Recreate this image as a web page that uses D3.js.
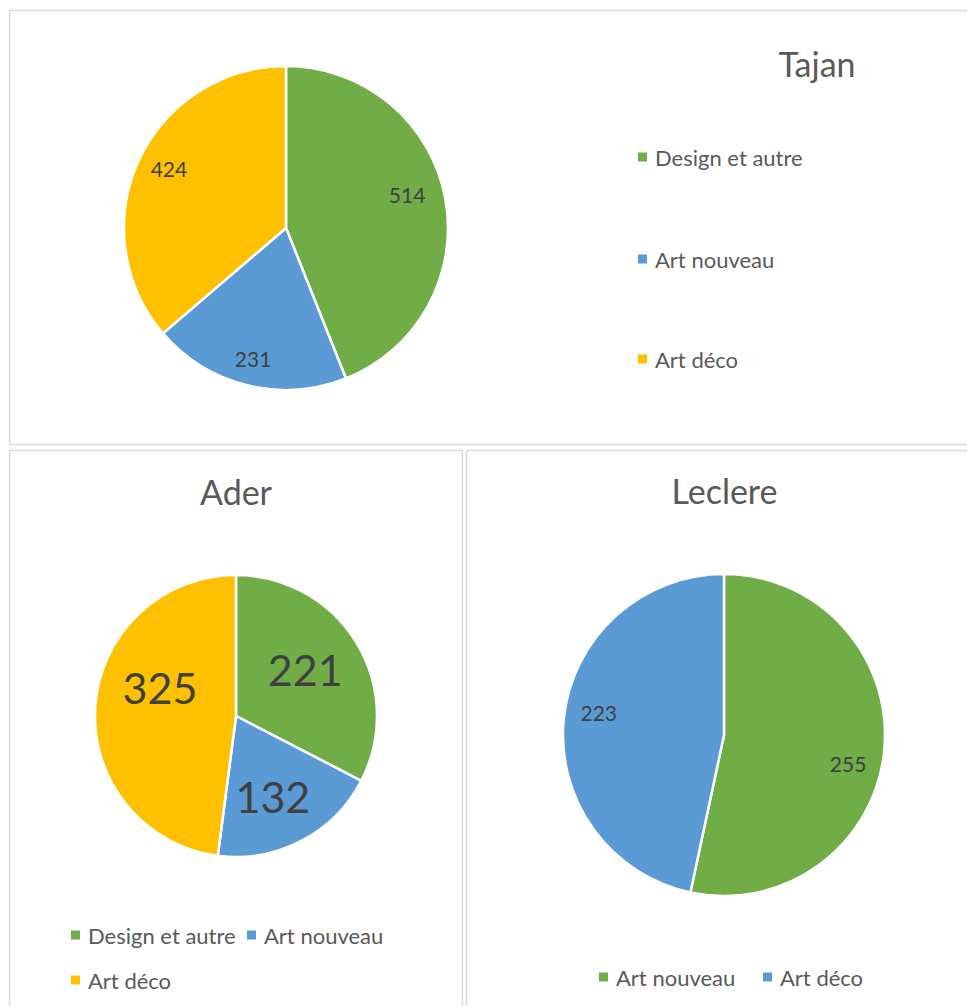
<!DOCTYPE html>
<html>
<head>
<meta charset="utf-8">
<script src="https://cdn.jsdelivr.net/npm/d3@7"></script>
<style>
  html, body { margin: 0; padding: 0; background: #ffffff; }
  svg { display: block; }
  text { font-family: Lato, "Open Sans", sans-serif; }
</style>
</head>
<body>
<svg id="chart" width="967" height="1006"></svg>
<script>
// ---- Data ----
const tajanCategories = ["Design et autre", "Art nouveau", "Art déco"];
const tajanValues = [514, 231, 424];
const tajanColors = ["#70ad47", "#5b9bd5", "#ffc000"];

const aderCategories = ["Design et autre", "Art nouveau", "Art déco"];
const aderValues = [221, 132, 325];
const aderColors = ["#70ad47", "#5b9bd5", "#ffc000"];

const leclereCategories = ["Art nouveau", "Art déco"];
const leclereValues = [255, 223];
const leclereColors = ["#70ad47", "#5b9bd5"];

const svg = d3.select("#chart");

// ---- Panel frames ----
const frames = [
  {x: 9.5, y: 10.5, w: 975, h: 434},
  {x: 9.5, y: 450.5, w: 453, h: 580},
  {x: 466.5, y: 450.5, w: 520, h: 580}
];
svg.selectAll("rect.frame").data(frames).enter().append("rect")
  .attr("class", "frame")
  .attr("x", d => d.x).attr("y", d => d.y)
  .attr("width", d => d.w).attr("height", d => d.h)
  .attr("fill", "#ffffff")
  .attr("stroke", "#d9d9d9").attr("stroke-width", 1.5);

function drawPie(cfg) {
  const g = svg.append("g").attr("transform", `translate(${cfg.cx},${cfg.cy})`);
  const pie = d3.pie().sort(null).value(d => d.v);
  const data = cfg.values.map((v, i) => ({v, c: cfg.colors[i], k: cfg.categories[i]}));
  const arcs = pie(data);
  const arc = d3.arc().innerRadius(0).outerRadius(cfg.r);
  g.selectAll("path").data(arcs).enter().append("path")
    .attr("d", arc)
    .attr("fill", d => d.data.c)
    .attr("stroke", "#ffffff").attr("stroke-width", 2.5).attr("stroke-linejoin", "round");
  // label placement (Excel "best fit"-like nudges): [angle shift in degrees, radius factor]
  const lp = (d, i) => {
    const [da, rf] = cfg.labelPlace[i];
    const a = (d.startAngle + d.endAngle) / 2 + da * Math.PI / 180;
    return d3.pointRadial(a, cfg.r * rf);
  };
  g.selectAll("text.lbl").data(arcs).enter().append("text")
    .attr("class", "lbl")
    .attr("x", (d, i) => lp(d, i)[0])
    .attr("y", (d, i) => lp(d, i)[1])
    .attr("text-anchor", "middle")
    .attr("dominant-baseline", "central")
    .attr("font-size", cfg.fs)
    .attr("fill", "#404040")
    .text(d => d.data.v);
  svg.append("text")
    .attr("x", cfg.tx).attr("y", cfg.ty)
    .attr("text-anchor", "middle")
    .attr("font-size", 34)
    .attr("fill", "#595959")
    .text(cfg.title);
}

drawPie({title: "Tajan", categories: tajanCategories, values: tajanValues, colors: tajanColors,
  cx: 286, cy: 228, r: 162, fs: 21, tx: 817, ty: 77,
  labelPlace: [[-4.8, 0.776], [0.3, 0.83], [2.1, 0.81]]});
drawPie({title: "Ader", categories: aderCategories, values: aderValues, colors: aderColors,
  cx: 236, cy: 716, r: 141, fs: 43, tx: 236, ty: 505,
  labelPlace: [[-2.4, 0.59], [3.1, 0.63], [16.5, 0.575]]});
drawPie({title: "Leclere", categories: leclereCategories, values: leclereValues, colors: leclereColors,
  cx: 724, cy: 735, r: 161, fs: 21, tx: 724.5, ty: 504,
  labelPlace: [[6.7, 0.79], [4.0, 0.79]]});

// ---- Legends ----
function legend(items, colors, positions) {
  const g = svg.append("g");
  const it = g.selectAll("g").data(items).enter().append("g")
    .attr("transform", (d, i) => `translate(${positions[i][0]},${positions[i][1]})`);
  it.append("rect").attr("x", 0).attr("y", -4.5).attr("width", 9).attr("height", 9)
    .attr("fill", (d, i) => colors[i]);
  it.append("text").attr("x", 17).attr("y", 0)
    .attr("dominant-baseline", "central")
    .attr("font-size", 22).attr("fill", "#595959")
    .text(d => d);
}
legend(tajanCategories, tajanColors, [[638, 157], [638, 259], [638, 359]]);
legend(aderCategories, aderColors, [[71, 935], [247, 935], [71, 980]]);
legend(leclereCategories, leclereColors, [[599, 977], [763, 977]]);
</script>
</body>
</html>
